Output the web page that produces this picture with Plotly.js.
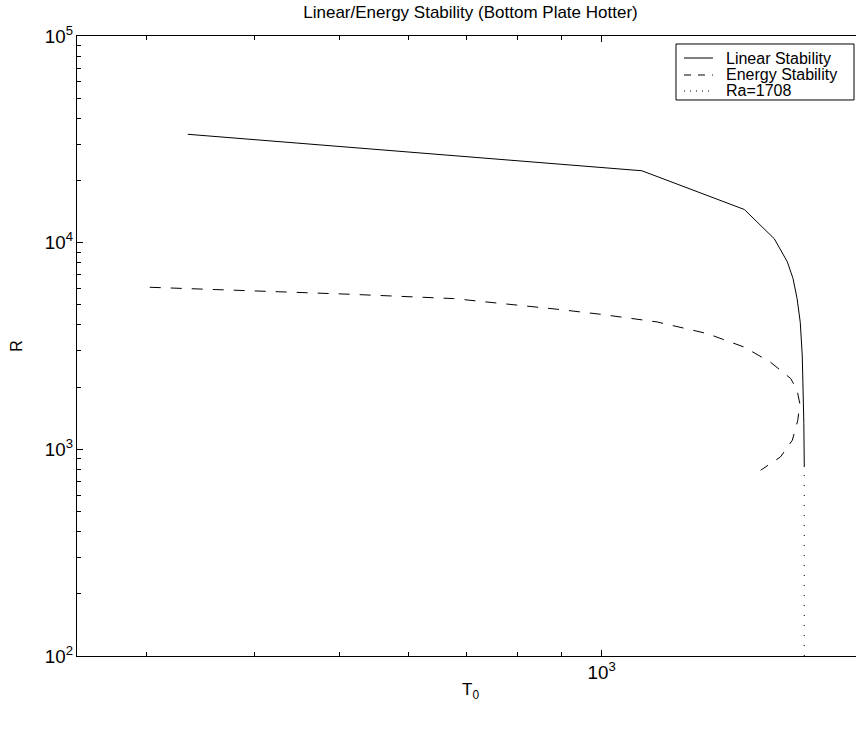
<!DOCTYPE html>
<html>
<head>
<meta charset="utf-8">
<script src="https://cdn.plot.ly/plotly-3.0.1.min.js"></script>
<style>
html,body{margin:0;padding:0;overflow:hidden;background:#fff;}
#chart{width:864px;height:734px;}
</style>
</head>
<body>
<div id="chart"></div>
<script>
// Linear stability curve (T0, R)
const linearT0 = [335, 1112, 1458, 1578, 1633, 1658, 1676, 1690, 1699, 1703, 1706, 1708];
const linearR  = [33450, 22280, 14470, 10440, 8090, 6710, 5354, 4120, 2830, 1953, 1337, 821];
// Energy stability curve (T0, R)
const energyT0 = [303, 402, 514, 676, 842, 889, 996, 1158, 1321, 1456, 1561, 1648, 1676, 1688, 1679, 1655, 1604, 1522];
const energyR  = [6083, 5837, 5629, 5364, 4885, 4764, 4506, 4134, 3633, 3129, 2647, 2200, 1930, 1666, 1383, 1107, 919, 792];
// Ra = 1708 line
const raT0 = [1708, 1708];
const raR  = [100, 821];

const seriesNames = ['Linear Stability', 'Energy Stability', 'Ra=1708'];
const seriesDash = ['solid', '11px,10px', '1px,9px'];
const legendDash = ['solid', '7px,7px', '1px,5px'];
const xRange = [250, 2000];
const yRange = [100, 100000];

const font = {family: '"Liberation Sans", Arial, Helvetica, sans-serif', color: '#000'};

const traces = [
  {x: linearT0, y: linearR, name: seriesNames[0], mode: 'lines', type: 'scatter',
   line: {color: '#000', width: 1, dash: seriesDash[0]}},
  {x: energyT0, y: energyR, name: seriesNames[1], mode: 'lines', type: 'scatter',
   line: {color: '#000', width: 1, dash: seriesDash[1]}},
  {x: raT0, y: raR, name: seriesNames[2], mode: 'lines', type: 'scatter',
   line: {color: '#000', width: 1, dash: seriesDash[2]}}
];

const axisCommon = {
  type: 'log', showgrid: false, zeroline: false,
  showline: true, linecolor: '#000', linewidth: 1, mirror: 'ticks',
  ticks: 'inside', ticklen: 6, tickcolor: '#000', tickwidth: 1,
  dtick: 1, exponentformat: 'power',
  tickfont: Object.assign({size: 15}, font),
  minor: {ticks: 'inside', ticklen: 4, tickcolor: '#000', dtick: 'D1', showgrid: false}
};

// Custom legend (box, line samples, labels) in paper coordinates
const legBox = {x0: 0.7611, x1: 0.9873, y0: 0.8968, y1: 0.9871};
const legRows = [0.9645, 0.9371, 0.9113];
const shapes = [{type: 'rect', xref: 'paper', yref: 'paper', x0: legBox.x0, x1: legBox.x1,
  y0: legBox.y0, y1: legBox.y1, line: {color: '#000', width: 1}, fillcolor: '#fff', layer: 'above'}];
const annotations = [];
seriesNames.forEach((name, i) => {
  shapes.push({type: 'line', xref: 'paper', yref: 'paper', x0: 0.7713, x1: 0.8081,
    y0: legRows[i], y1: legRows[i], line: {color: '#000', width: 1, dash: legendDash[i]}, layer: 'above'});
  annotations.push({xref: 'paper', yref: 'paper', x: 0.8221, y: legRows[i], xanchor: 'left',
    yanchor: 'middle', text: name, showarrow: false, font: Object.assign({size: 16}, font)});
});

const layout = {
  width: 864, height: 734,
  margin: {l: 77, r: 0, t: 36, b: 78},
  paper_bgcolor: '#fff', plot_bgcolor: '#fff',
  font: Object.assign({size: 12}, font),
  title: {text: 'Linear/Energy Stability (Bottom Plate Hotter)', font: Object.assign({size: 17}, font),
          x: 0.5, xref: 'paper', y: 0.983, yref: 'container', yanchor: 'middle'},
  xaxis: Object.assign({}, axisCommon, {
    range: [Math.log10(xRange[0]), Math.log10(xRange[1])],
    title: {text: 'T<sub>0</sub>', font: Object.assign({size: 17}, font), standoff: 1}
  }),
  yaxis: Object.assign({}, axisCommon, {
    range: [Math.log10(yRange[0]), Math.log10(yRange[1])],
    title: {text: 'R', font: Object.assign({size: 16}, font), standoff: 18}
  }),
  showlegend: false,
  shapes: shapes,
  annotations: annotations
};

Plotly.newPlot('chart', traces, layout, {displayModeBar: false, staticPlot: true});
</script>
</body>
</html>
